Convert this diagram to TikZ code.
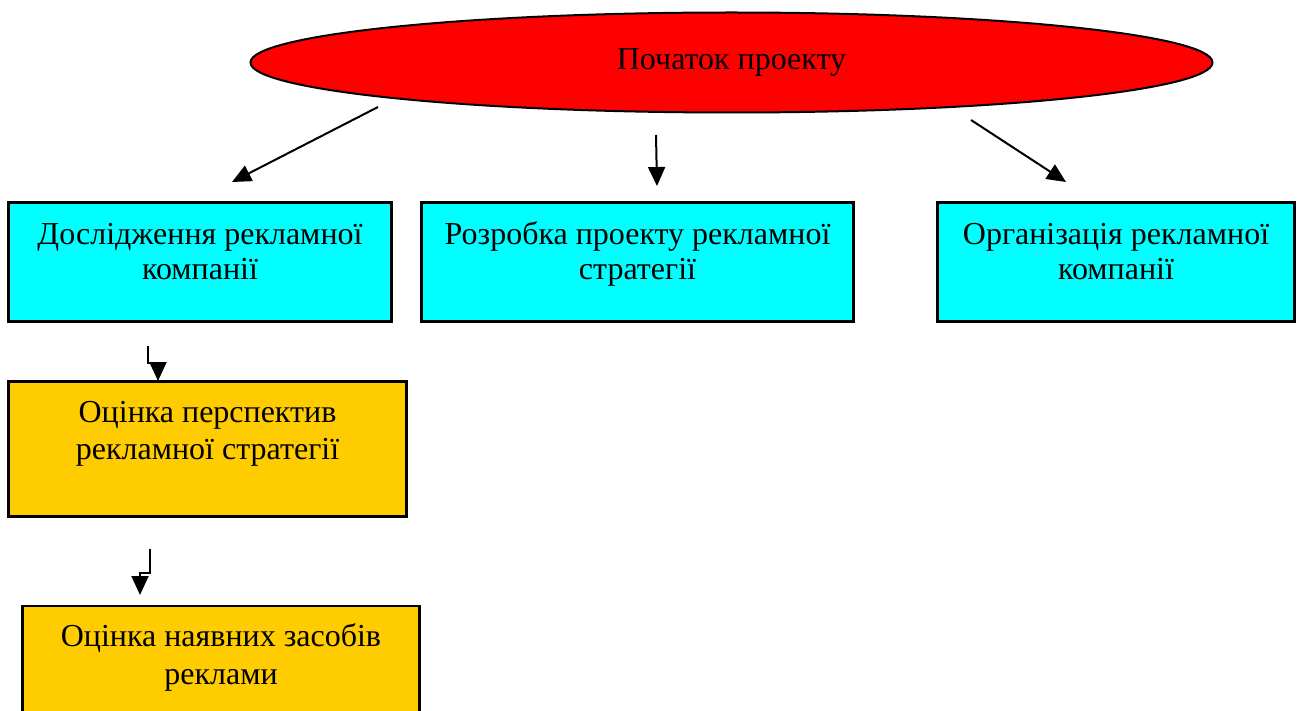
\documentclass[tikz,border=0pt]{standalone}
\usepackage{fontspec}
\setmainfont{Liberation Serif}
\usetikzlibrary{positioning,arrows.meta,shapes.geometric}
\definecolor{startred}{HTML}{FF0000}
\definecolor{stagecyan}{HTML}{00FFFF}
\definecolor{evalgold}{HTML}{FFCC00}
\newcommand{\lnstrut}{\rule{0pt}{24pt}}
\begin{document}
\begin{tikzpicture}[x=1pt,y=-1pt,
  startnode/.style={ellipse,draw,line width=2pt,fill=startred,inner sep=0pt,minimum width=962pt,minimum height=100pt},
  stagebox/.style={rectangle,draw,line width=2.5pt,fill=stagecyan,inner sep=0pt,minimum height=119pt},
  evalbox/.style={rectangle,draw,line width=2.5pt,fill=evalgold,inner sep=0pt},
  boxtext/.style={inner sep=0pt,align=center,font=\fontsize{32}{35.5}\selectfont},
  flow/.style={line width=2pt,-{Triangle[length=19pt,width=17pt]}}]
 \useasboundingbox (0,0) rectangle (1297,711);
 \node[startnode,font=\fontsize{32}{35}\selectfont] (start) at (731.5,62.5) {Початок проекту};
 \node[stagebox,minimum width=383pt] (research) at (200,262) {};
 \node[stagebox,minimum width=432pt] (design) at (637.5,262) {};
 \node[stagebox,minimum width=357pt] (organise) at (1116,262) {};
 \node[evalbox,minimum width=398pt,minimum height=135pt] (prospects) at (207.5,449) {};
 \node[evalbox,minimum width=397pt,minimum height=140pt] (means) at (221,676) {};
 \node[boxtext,below=19pt of research.north] (research-t) {\lnstrut Дослідження рекламної\\компанії};
 \node[boxtext,below=19pt of design.north] (design-t) {\lnstrut Розробка проекту рекламної\\стратегії};
 \node[boxtext,below=19pt of organise.north] (organise-t) {\lnstrut Організація рекламної\\компанії};
 \node[boxtext,font=\fontsize{32}{37.5}\selectfont,below=18pt of prospects.north] (prospects-t) {\lnstrut Оцінка перспектив\\рекламної стратегії};
 \node[boxtext,font=\fontsize{32}{37.5}\selectfont,below=18pt of means.north] (means-t) {\lnstrut Оцінка наявних засобів\\реклами};
 \coordinate (r-from) at (378,107); \coordinate (r-to) at (232,182);
 \coordinate (d-from) at (656,135); \coordinate (d-to) at (657,186);
 \coordinate (o-from) at (971,120); \coordinate (o-to) at (1066,182);
 \coordinate (p-from) at (148,346); \coordinate (p-to) at (158,381);
 \coordinate (m-from) at (150,549); \coordinate (m-to) at (140,595);
 \draw[flow] (r-from) -- (r-to);
 \draw[flow] (d-from) -- (d-to);
 \draw[flow] (o-from) -- (o-to);
 \draw[flow] (p-from) |- (153,363) -| (p-to);
 \draw[flow] (m-from) |- (145,573) -| (m-to);
\end{tikzpicture}
\end{document}
